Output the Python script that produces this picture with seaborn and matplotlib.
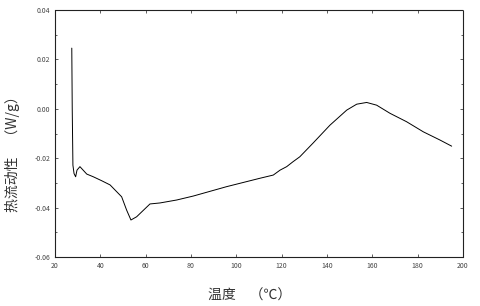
import matplotlib
matplotlib.use("Agg")
import matplotlib.pyplot as plt
import seaborn as sns
import pandas as pd
from matplotlib.ticker import MultipleLocator

sns.set_theme(style="white")
plt.rcParams['font.family'] = ['Noto Sans CJK SC', 'DejaVu Sans']

temperature = [27.4, 27.6, 27.9, 28.4, 29.1, 29.7, 31.0, 34.0, 36.9, 40.6, 44.3,
               49.4, 51.6, 53.5, 56.0, 61.9, 66.3, 73.7, 81.0, 95.7, 110.4,
               116.3, 119.3, 122.2, 125.0, 128.0, 133.8, 141.3, 148.7, 153.1,
               157.5, 161.9, 167.8, 175.1, 182.5, 189.8, 195.0]
heat_flow = [0.0246, 0.0000, -0.0228, -0.0262, -0.0275, -0.0248, -0.0234, -0.0264,
             -0.0275, -0.0291, -0.0308, -0.0356, -0.0410, -0.0450, -0.0437,
             -0.0385, -0.0381, -0.0369, -0.0353, -0.0315, -0.0281, -0.0268,
             -0.0248, -0.0234, -0.0214, -0.0194, -0.0139, -0.0066, -0.0005,
             0.0019, 0.0026, 0.0015, -0.0018, -0.0052, -0.0093, -0.0126, -0.0151]

x_ticks = [20, 40, 60, 80, 100, 120, 140, 160, 180, 200]
y_ticks = [0.04, 0.02, 0.00, -0.02, -0.04, -0.06]
y_tick_labels = ["0.04", "0.02", "0.00", "-0.02", "-0.04", "-0.06"]

df = pd.DataFrame({"T": temperature, "HF": heat_flow})

fig = plt.figure(figsize=(4.8, 3.06), dpi=100)
ax = fig.add_axes([0.1146, 0.160, 0.85, 0.807])
sns.lineplot(data=df, x="T", y="HF", ax=ax, color="black", linewidth=0.7,
             sort=False, estimator=None)

ax.set_xlim(20, 200)
ax.set_ylim(-0.06, 0.04)
ax.set_xticks(x_ticks)
ax.set_xticklabels([str(t) for t in x_ticks])
ax.set_yticks(y_ticks)
ax.set_yticklabels(y_tick_labels)
ax.yaxis.set_minor_locator(MultipleLocator(0.01))
ax.tick_params(axis="both", which="both", direction="in", labelsize=5,
               colors="#444444", top=True, right=True, length=2.5, width=0.6,
               bottom=True, left=True)
ax.tick_params(axis="both", which="minor", length=1.5)
for s in ax.spines.values():
    s.set_color("#222222")
    s.set_linewidth(0.8)
    s.set_linestyle((0, (1.5, 1)))
    s.set_visible(True)

ax.set_xlabel("温度　（℃）", fontsize=10, color="#333333")
ax.set_ylabel("热流动性　（W/g）", fontsize=10, color="#333333")
ax.xaxis.set_label_coords(0.478, -0.13)
ax.yaxis.set_label_coords(-0.085, 0.43)

fig.savefig("out.png", dpi=100)
